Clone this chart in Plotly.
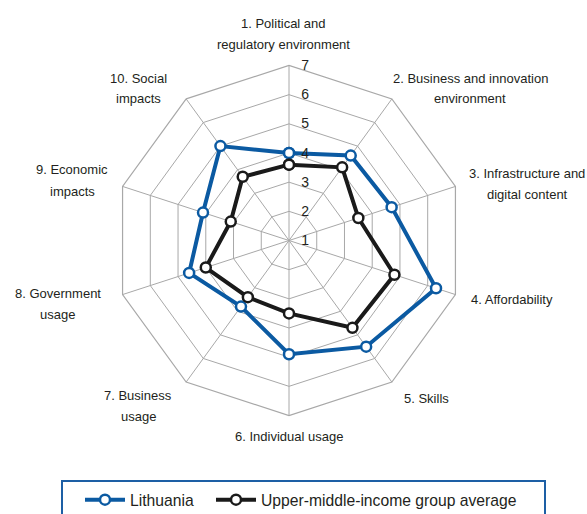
"""
Radar chart: Lithuania vs upper-middle-income group average (pillar scores 1-7).
"""

import plotly.graph_objects as go

# =====================================================================
# Data
# =====================================================================

pillars = [
    "1. Political and<br>regulatory environment",
    "2. Business and innovation<br>environment",
    "3. Infrastructure and<br>digital content",
    "4. Affordability",
    "5. Skills",
    "6. Individual usage",
    "7. Business<br>usage",
    "8. Government<br>usage",
    "9. Economic<br>impacts",
    "10. Social<br>impacts",
]

lithuania = [4.0, 4.6, 4.7, 6.3, 5.5, 4.9, 3.8, 4.6, 4.1, 5.0]
umi_average = [3.6, 4.1, 3.5, 4.8, 4.7, 3.5, 3.4, 4.0, 3.1, 3.7]

radial_ticks = [1, 2, 3, 4, 5, 6, 7]

# =====================================================================
# Styling
# =====================================================================

W, H = 587, 514
FONT = "Liberation Sans, Arial, sans-serif"
BLUE = "#0b5aa2"
BLACK = "#1a1a1a"
GRID = "#a8a8a8"
TXT = "#231f20"
LINE_GAP = 21  # px between the two lines of a pillar label

# pixel centres of the pillar labels (layout only)
label_px = [
    (283, 34), (470, 88.5), (527, 183.5), (512, 299), (426, 398),
    (289, 436), (138, 406), (58, 304), (72, 180.5), (138, 88.5),
]


def font(size):
    return dict(family=FONT, size=size, color=TXT)


def closed(vals):
    return vals + vals[:1]


def legend_box(left_px):
    return dict(
        orientation="h",
        x=left_px / W,
        xanchor="left",
        y=1 - 483 / H,
        yanchor="top",
        font=font(15.7),
        itemwidth=40,
        bgcolor="rgba(0,0,0,0)",
    )


fig = go.Figure()

for name, vals, color, leg in [
    ("Lithuania", lithuania, BLUE, "legend"),
    ("Upper-middle-income group average", umi_average, BLACK, "legend2"),
]:
    fig.add_trace(go.Scatterpolar(
        r=closed(vals),
        theta=closed(pillars),
        mode="lines+markers",
        name=name,
        legend=leg,
        line=dict(color=color, width=4),
        marker=dict(size=10, color="white", line=dict(color=color, width=2.5)),
        cliponaxis=False,
    ))

# centre (289, 240.5), outer radius 175 px
cx, cy, rad = 289, 240.5, 175
fig.update_layout(
    width=W,
    height=H,
    margin=dict(l=0, r=0, t=0, b=0, autoexpand=False),
    paper_bgcolor="white",
    plot_bgcolor="white",
    font=font(13),
    polar=dict(
        domain=dict(
            x=[(cx - rad) / W, (cx + rad) / W],
            y=[1 - (cy + rad) / H, 1 - (cy - rad) / H],
        ),
        bgcolor="white",
        gridshape="linear",
        radialaxis=dict(
            range=[1, 7],
            tickvals=radial_ticks,
            angle=90,
            tickangle=90,
            side="clockwise",
            showline=False,
            ticks="outside",
            ticklen=9,
            tickcolor="rgba(0,0,0,0)",
            gridcolor=GRID,
            gridwidth=1.2,
            tickfont=font(14),
        ),
        angularaxis=dict(
            rotation=90,
            direction="clockwise",
            showticklabels=False,
            ticks="",
            gridcolor=GRID,
            gridwidth=1.2,
            linecolor=GRID,
            linewidth=1.2,
        ),
    ),
    showlegend=True,
    legend=legend_box(80),
    legend2=legend_box(211),
)

# legend frame
fig.add_shape(
    type="rect", xref="paper", yref="paper",
    x0=62 / W, x1=545 / W, y0=-0.05, y1=1 - 481 / H,
    line=dict(color="#1d5fa5", width=2),
)

# pillar labels, one annotation per text line to keep the loose line spacing
for text, (px, py) in zip(pillars, label_px):
    lines = text.split("<br>")
    top = py - LINE_GAP * (len(lines) - 1) / 2
    for i, line in enumerate(lines):
        fig.add_annotation(
            text=line, x=px / W, y=1 - (top + i * LINE_GAP) / H,
            xref="paper", yref="paper", showarrow=False,
            xanchor="center", yanchor="middle", font=font(13),
        )

fig.write_html(
    "out.html",
    config={"displayModeBar": False},
    post_script="document.body.style.margin='0';",
)
